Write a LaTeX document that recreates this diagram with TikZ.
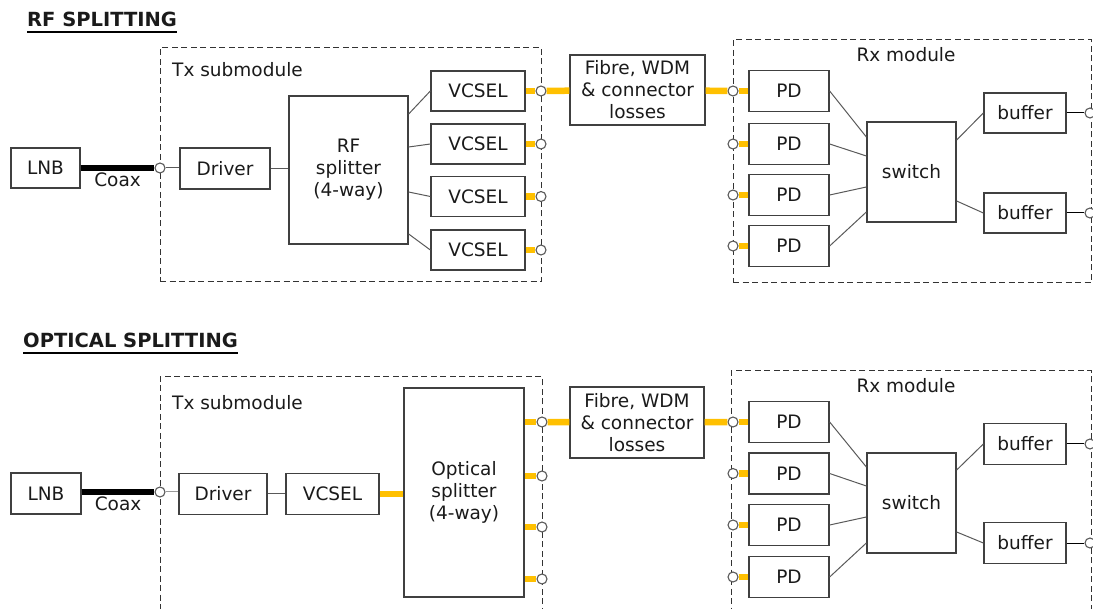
\documentclass[tikz,border=0pt]{standalone}
\usepackage{fontspec}
\setmainfont{DejaVu Sans}
\usetikzlibrary{calc}

\definecolor{fibre}{HTML}{FFC000}
\definecolor{edge}{HTML}{404040}
\definecolor{ink}{HTML}{1A1A1A}

\begin{document}
\begin{tikzpicture}[x=1pt, y=-1pt,
    font=\fontsize{18.5}{22}\selectfont, text=ink,
    box/.style={draw=edge, line width=1.3pt, inner sep=0pt, align=center},
    module/.style={draw=black!80, line width=1pt, dash pattern=on 6pt off 3.5pt, inner sep=0pt},
    heading/.style={font=\fontsize{19.5}{22}\selectfont\bfseries, inner sep=0pt, anchor=base west},
    wire/.style={draw=black!65, line width=1pt},
    optic/.style={draw=fibre, line width=6.5pt},
    coax/.style={draw=black, line width=6pt},
    port/.style={circle, draw=black!65, fill=white, line width=1.1pt, minimum size=10pt, inner sep=0pt}
]
\useasboundingbox (0,0) rectangle (1093,609);
\clip (0,0) rectangle (1093,609);

% ---------------- RF splitting ----------------
\node[heading] (titleA) at (27,27) {RF SPLITTING};
\draw[line width=2pt] ([yshift=-5pt]titleA.base west) -- ([yshift=-5pt]titleA.base east);

\node[module, minimum width=381, minimum height=234] (txA) at (350.5,165) {};
\node[anchor=west, inner sep=0pt] (txlabA) at (172,70) {Tx submodule};
\node[module, minimum width=358, minimum height=243] (rxA) at (912,161.5) {};
\node[inner sep=0pt] (rxlabA) at (906,55) {Rx module};

\node[box, minimum width=69, minimum height=40] (lnbA) at (45.5,168) {LNB};
\node[port] (inA) at (160,168) {};
\node[box, minimum width=90, minimum height=41] (drvA) at (225,168.5) {Driver};
\node[box, minimum width=119, minimum height=148] (splA) at (348.5,170) {RF\\splitter\\(4-way)};
\foreach \i/\y in {1/91,2/144,3/196.5,4/250} {
  \node[box, minimum width=94, minimum height=40] (vcA\i) at (478,\y) {VCSEL};
  \node[port] (txpA\i) at (541,\y) {};
}
\node[box, minimum width=135, minimum height=70] (fibA) at (637.5,90) {Fibre, WDM\\\& connector\\losses};
\foreach \i/\y in {1/91,2/144,3/195,4/246} {
  \node[box, minimum width=80, minimum height=41] (pdA\i) at (789,\y) {PD};
  \node[port] (rxpA\i) at (733,\y) {};
}
\node[box, minimum width=89, minimum height=100] (swA) at (911.5,172) {switch};
\node[box, minimum width=82, minimum height=40] (bufA1) at (1025,113) {buffer};
\node[box, minimum width=82, minimum height=40] (bufA2) at (1025,213) {buffer};
\node[port] (outA1) at (1090,113) {};
\node[port] (outA2) at (1090,213) {};

\draw[coax] (lnbA.east |- inA) -- node[below=2pt, inner sep=0pt] {Coax} (inA);
\draw[wire] (inA) -- (inA -| drvA.west);
\draw[wire] (drvA.east) -- (drvA.east -| splA.west);
\foreach \i/\dy in {1/56,2/23,3/-22,4/-64}
  \draw[wire] ([yshift=\dy]splA.east) -- (vcA\i.west);
\foreach \i in {1,...,4}
  \draw[optic] (vcA\i) -- (txpA\i);
\draw[optic] (txpA1) -- (fibA);
\draw[optic] (fibA) -- (rxpA1);
\foreach \i in {1,...,4}
  \draw[optic] (rxpA\i) -- (pdA\i);
\foreach \i/\dy in {1/35,2/16,3/-15,4/-40}
  \draw[wire] (pdA\i.east) -- ([yshift=\dy]swA.west);
\draw[wire] ([yshift=32]swA.east) -- (bufA1.west);
\draw[wire] ([yshift=-29]swA.east) -- (bufA2.west);
\draw[wire, draw=black] (bufA1) -- (outA1);
\draw[wire, draw=black] (bufA2) -- (outA2);

% ---------------- Optical splitting ----------------
\node[heading] (titleB) at (23,348) {OPTICAL SPLITTING};
\draw[line width=2pt] ([yshift=-5pt]titleB.base west) -- ([yshift=-5pt]titleB.base east);

\node[module, minimum width=382, minimum height=263] (txB) at (351,508.5) {};
\node[anchor=west, inner sep=0pt] (txlabB) at (172,403) {Tx submodule};
\node[module, minimum width=360, minimum height=269] (rxB) at (911,505.5) {};
\node[inner sep=0pt] (rxlabB) at (906,386) {Rx module};

\node[box, minimum width=70, minimum height=41] (lnbB) at (46,493.5) {LNB};
\node[port] (inB) at (160,492) {};
\node[box, minimum width=88, minimum height=41] (drvB) at (223,494) {Driver};
\node[box, minimum width=93, minimum height=41] (vcB) at (332.5,494) {VCSEL};
\node[box, minimum width=120, minimum height=209] (splB) at (464,492.5) {Optical\\splitter\\(4-way)};
\foreach \i/\y in {1/422,2/476,3/527,4/579}
  \node[port] (txpB\i) at (542,\y) {};
\node[box, minimum width=134, minimum height=71] (fibB) at (637,422.5) {Fibre, WDM\\\& connector\\losses};
\foreach \i/\y in {1/422,2/473.5,3/525,4/577} {
  \node[box, minimum width=80, minimum height=41] (pdB\i) at (789,\y) {PD};
  \node[port] (rxpB\i) at (733,\y) {};
}
\node[box, minimum width=89, minimum height=100] (swB) at (911.5,503) {switch};
\node[box, minimum width=82, minimum height=41] (bufB1) at (1025,444) {buffer};
\node[box, minimum width=82, minimum height=41] (bufB2) at (1025,543) {buffer};
\node[port] (outB1) at (1090,444) {};
\node[port] (outB2) at (1090,543) {};

\draw[coax] (lnbB.east |- inB) -- node[below=2pt, inner sep=0pt] {Coax} (inB);
\draw[wire, draw=black!40] (inB) -- (inB -| drvB.west);
\draw[wire] (drvB) -- (vcB);
\draw[optic] (vcB.east) -- (vcB.east -| splB.west);
\foreach \i in {1,...,4}
  \draw[optic] (txpB\i -| splB.east) -- (txpB\i);
\draw[optic] (txpB1) -- (fibB);
\draw[optic] (fibB) -- (rxpB1);
\foreach \i in {1,...,4}
  \draw[optic] (rxpB\i) -- (pdB\i);
\foreach \i/\dy in {1/36,2/17,3/-14,4/-40}
  \draw[wire] (pdB\i.east) -- ([yshift=\dy]swB.west);
\draw[wire] ([yshift=33]swB.east) -- (bufB1.west);
\draw[wire] ([yshift=-29]swB.east) -- (bufB2.west);
\draw[wire, draw=black] (bufB1) -- (outB1);
\draw[wire, draw=black] (bufB2) -- (outB2);
\end{tikzpicture}
\end{document}
